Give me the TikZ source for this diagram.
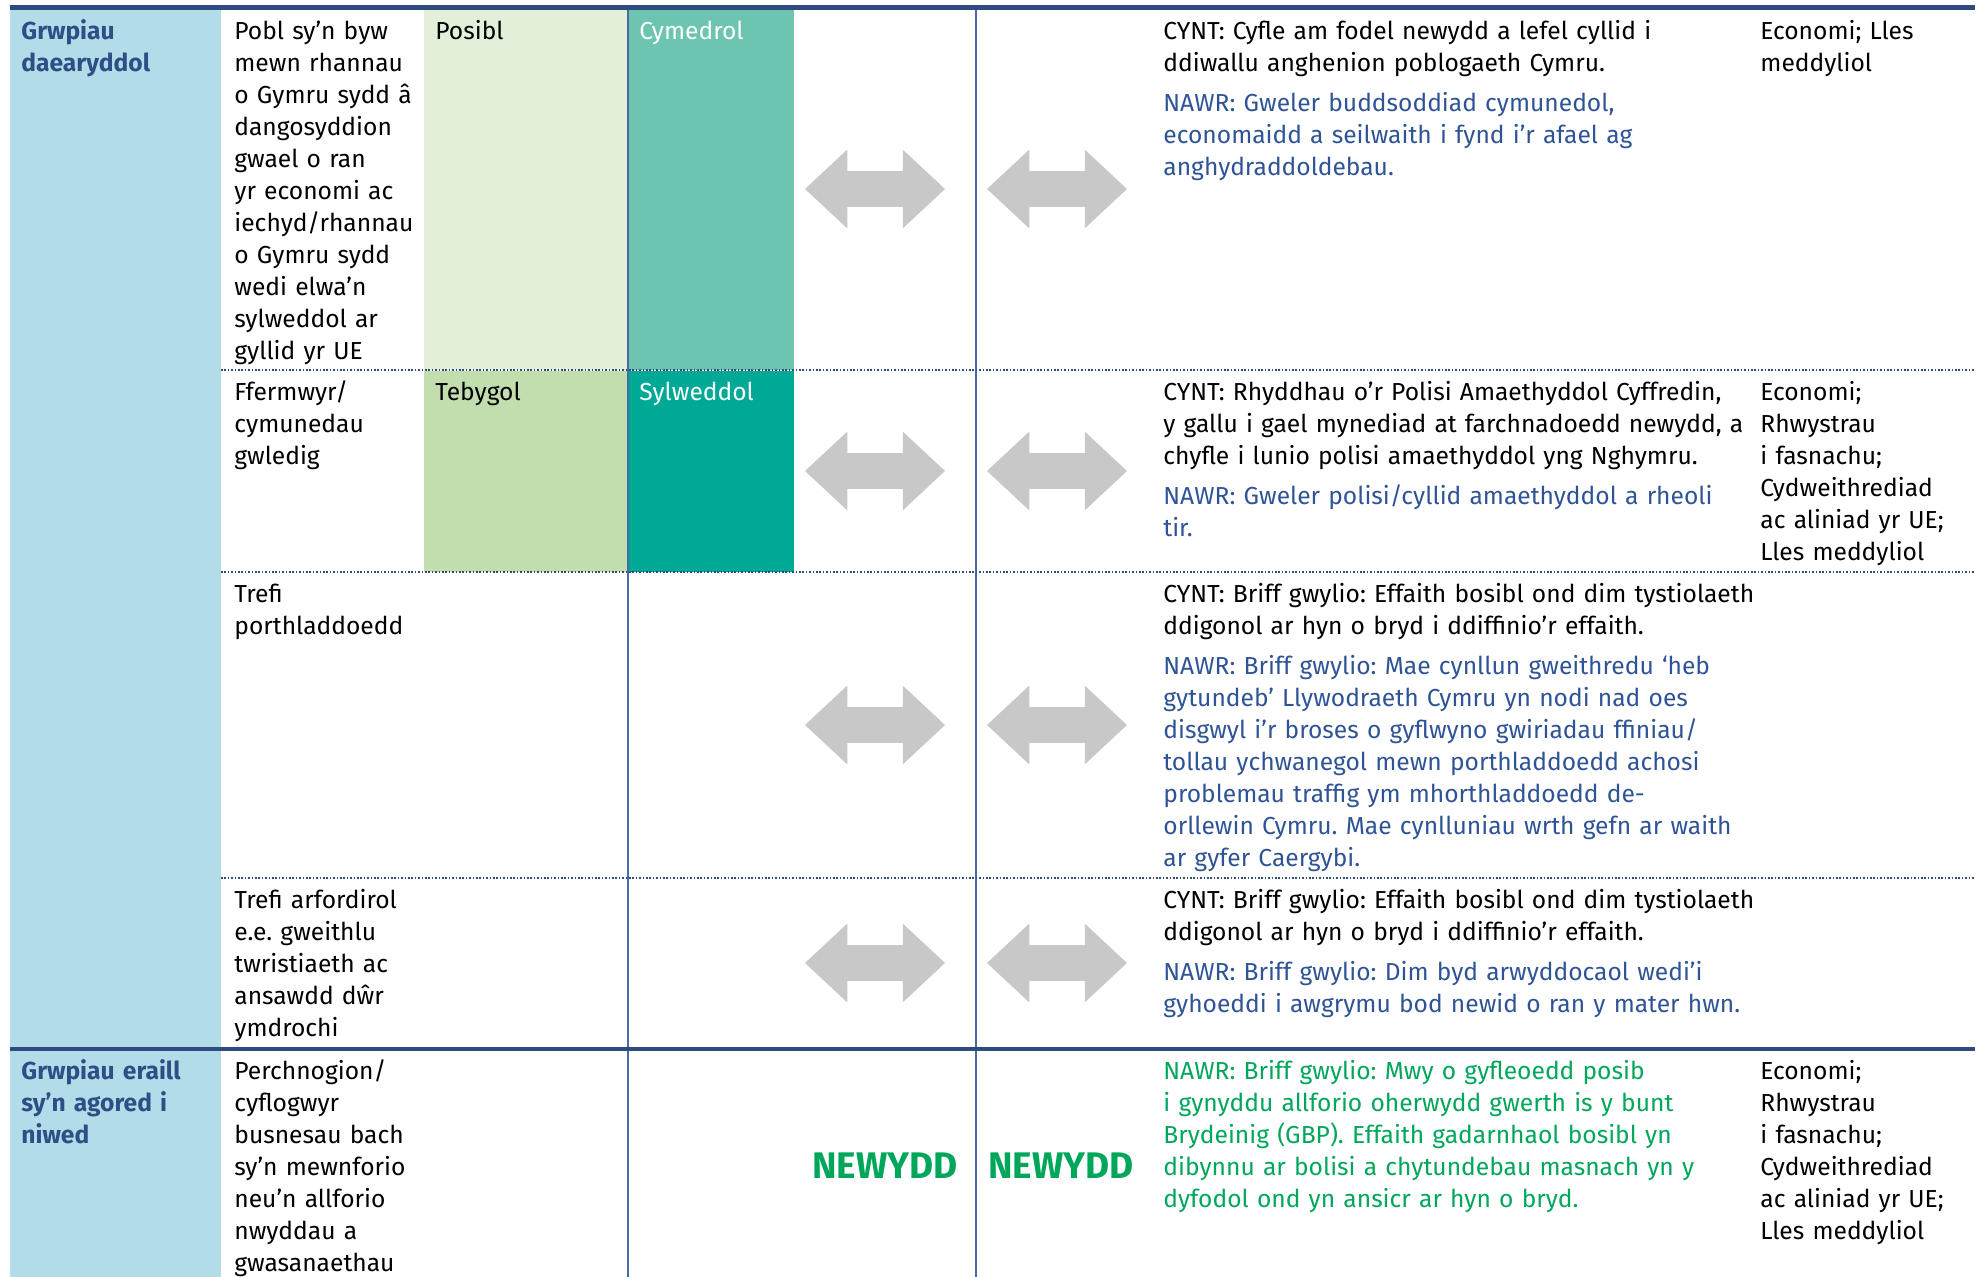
\documentclass[tikz,border=0pt]{standalone}
\usepackage{fontspec}
\setmainfont{Fira Sans}
\usetikzlibrary{positioning,shapes.arrows}
\frenchspacing

\definecolor{bandblue}{HTML}{2E4A7E}
\definecolor{labelblue}{HTML}{2F4E87}
\definecolor{nawrblue}{HTML}{2F5496}
\definecolor{gridblue}{HTML}{4A6AA5}
\definecolor{sidebg}{HTML}{B2DDE8}
\definecolor{posiblfill}{HTML}{E2EFD9}
\definecolor{cymedrolfill}{HTML}{6CC4B1}
\definecolor{tebygolfill}{HTML}{C2DEAE}
\definecolor{sylweddolfill}{HTML}{00A896}
\definecolor{arrowgrey}{HTML}{C8C8C8}
\definecolor{newgreen}{HTML}{00A65A}

\tikzset{
    txt/.style={anchor=north west, inner sep=0pt, align=left,
        font=\fontsize{12.3}{16}\selectfont,
        execute at begin node=\strut, execute at end node=\strut},
    nawr/.style={txt, text=nawrblue},
    nawrnew/.style={txt, text=newgreen},
    grwp/.style={txt, text=labelblue, font=\fontsize{12.3}{16}\selectfont\bfseries},
    twoway/.style={double arrow, fill=arrowgrey, inner xsep=0pt, inner ysep=8.75pt,
        minimum height=70pt, double arrow head extend=10.75pt,
        double arrow tip angle=86},
    newydd/.style={text=newgreen, font=\fontsize{18.5}{20}\selectfont\bfseries,
        inner sep=0pt, anchor=base},
    dots/.style={bandblue, line width=0.9pt, dash pattern=on 0.8pt off 0.9pt}
}

\begin{document}
\begin{tikzpicture}[x=0.5pt,y=-0.5pt]
    \useasboundingbox (0,0) rectangle (1982,1277);

    \fill [sidebg] (10,10) rectangle (221,1047);
    \fill [sidebg] (10,1050) rectangle (221,1277);
    \fill [posiblfill] (424,10) rectangle (628,370);
    \fill [cymedrolfill] (628,10) rectangle (794,370);
    \fill [tebygolfill] (424,371) rectangle (628,572);
    \fill [sylweddolfill] (628,371) rectangle (794,572);

    \draw [gridblue, line width=0.7pt] (628,10) -- (628,1277);
    \draw [gridblue, line width=0.7pt] (976,10) -- (976,1277);
    \foreach \y in {370,572,878}
        \draw [dots] (221,\y) -- (1975,\y);
    \draw [bandblue, line width=2.5pt] (10,7.5) -- (1975,7.5);
    \draw [bandblue, line width=2pt] (10,1048.5) -- (1975,1048.5);

    % arrows
    \foreach \y [count=\i] in {189,471,725,963} {
        \node [twoway] (saeth\i a) at (875,\y) {};
        \node [twoway] (saeth\i b) at (1057,\y) {};
    }

    % row 1
    \node [grwp, text width=95pt] (daear) at (21,17) {Grwpiau\\daearyddol};
    \node [txt, text width=100pt] (pobl) at (234,17) {Pobl sy’n byw\\mewn rhannau\\o Gymru sydd â\\dangosyddion\\gwael o ran\\yr economi ac\\iechyd/rhannau\\o Gymru sydd\\wedi elwa’n\\sylweddol ar\\gyllid yr UE};
    \node [txt] (posibl) at (435,17) {Posibl};
    \node [txt, text=white] (cymedrol) at (639,17) {Cymedrol};
    \node [txt, text width=300pt] (cynt1) at (1163,17) {CYNT: Cyfle am fodel newydd a lefel cyllid i\\ddiwallu anghenion poblogaeth Cymru.};
    \node [nawr, text width=300pt, below=3.5pt of cynt1.south west, anchor=north west] (nawr1) {NAWR: Gweler buddsoddiad cymunedol,\\economaidd a seilwaith i fynd i’r afael ag\\anghydraddoldebau.};
    \node [txt, text width=105pt] (maes1) at (1760,17) {Economi; Lles\\meddyliol};

    % row 2
    \node [txt, text width=100pt] (ffermwyr) at (234,378) {Ffermwyr/\\cymunedau\\gwledig};
    \node [txt] (tebygol) at (435,378) {Tebygol};
    \node [txt, text=white] (sylweddol) at (639,378) {Sylweddol};
    \node [txt, text width=300pt] (cynt2) at (1163,378) {CYNT: Rhyddhau o’r Polisi Amaethyddol Cyffredin,\\y gallu i gael mynediad at farchnadoedd newydd, a\\chyfle i lunio polisi amaethyddol yng Nghymru.};
    \node [nawr, text width=300pt, below=3.5pt of cynt2.south west, anchor=north west] (nawr2) {NAWR: Gweler polisi/cyllid amaethyddol a rheoli\\tir.};
    \node [txt, text width=105pt] (maes2) at (1760,378) {Economi;\\Rhwystrau\\i fasnachu;\\Cydweithrediad\\ac aliniad yr UE;\\Lles meddyliol};

    % row 3
    \node [txt, text width=100pt] (porthladd) at (234,580) {Trefi\\porthladdoedd};
    \node [txt, text width=300pt] (cynt3) at (1163,580) {CYNT: Briff gwylio: Effaith bosibl ond dim tystiolaeth\\ddigonol ar hyn o bryd i ddiffinio’r effaith.};
    \node [nawr, text width=300pt, below=3.5pt of cynt3.south west, anchor=north west] (nawr3) {NAWR: Briff gwylio: Mae cynllun gweithredu ‘heb\\gytundeb’ Llywodraeth Cymru yn nodi nad oes\\disgwyl i’r broses o gyflwyno gwiriadau ffiniau/\\tollau ychwanegol mewn porthladdoedd achosi\\problemau traffig ym mhorthladdoedd de-\\orllewin Cymru. Mae cynlluniau wrth gefn ar waith\\ar gyfer Caergybi.};

    % row 4
    \node [txt, text width=100pt] (arfordir) at (234,886) {Trefi arfordirol\\e.e. gweithlu\\twristiaeth ac\\ansawdd dŵr\\ymdrochi};
    \node [txt, text width=300pt] (cynt4) at (1163,886) {CYNT: Briff gwylio: Effaith bosibl ond dim tystiolaeth\\ddigonol ar hyn o bryd i ddiffinio’r effaith.};
    \node [nawr, text width=300pt, below=3.5pt of cynt4.south west, anchor=north west] (nawr4) {NAWR: Briff gwylio: Dim byd arwyddocaol wedi’i\\gyhoeddi i awgrymu bod newid o ran y mater hwn.};

    % row 5
    \node [grwp, text width=95pt] (eraill) at (21,1057) {Grwpiau eraill\\sy’n agored i\\niwed};
    \node [txt, text width=100pt] (busnesau) at (234,1057) {Perchnogion/\\cyflogwyr\\busnesau bach\\sy’n mewnforio\\neu’n allforio\\nwyddau a\\gwasanaethau};
    \node [newydd] (newydda) at (885,1178) {NEWYDD};
    \node [newydd] (newyddb) at (1061,1178) {NEWYDD};
    \node [nawrnew, text width=300pt] (nawr5) at (1163,1057) {NAWR: Briff gwylio: Mwy o gyfleoedd posib\\i gynyddu allforio oherwydd gwerth is y bunt\\Brydeinig (GBP). Effaith gadarnhaol bosibl yn\\dibynnu ar bolisi a chytundebau masnach yn y\\dyfodol ond yn ansicr ar hyn o bryd.};
    \node [txt, text width=105pt] (maes5) at (1760,1057) {Economi;\\Rhwystrau\\i fasnachu;\\Cydweithrediad\\ac aliniad yr UE;\\Lles meddyliol};
\end{tikzpicture}
\end{document}
